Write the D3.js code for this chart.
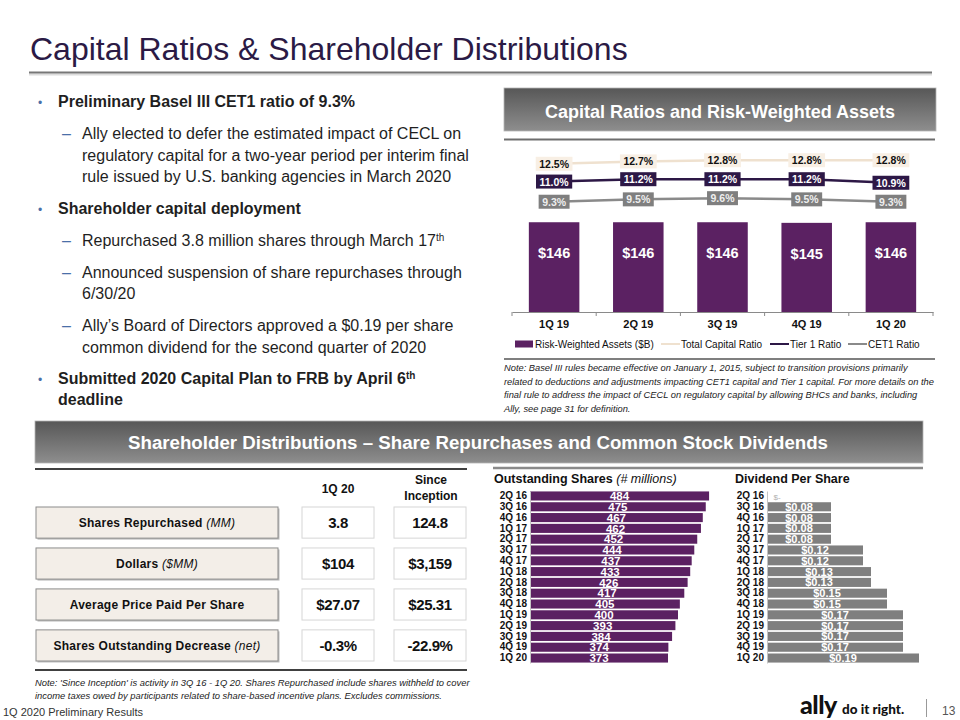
<!DOCTYPE html>
<html>
<head>
<meta charset="utf-8">
<script src="https://cdn.jsdelivr.net/npm/d3@7"></script>
<style>
  body { margin: 0; background: #ffffff; }
  svg { display: block; }
</style>
</head>
<body>
<script>
// ---------------- DATA ----------------
const quarters = ["1Q 19", "2Q 19", "3Q 19", "4Q 19", "1Q 20"];
const rwa = [146, 146, 146, 145, 146];
const totalCapitalRatio = [12.5, 12.7, 12.8, 12.8, 12.8];
const tier1Ratio = [11.0, 11.2, 11.2, 11.2, 10.9];
const cet1Ratio = [9.3, 9.5, 9.6, 9.5, 9.3];
const legendLabels = ["Risk-Weighted Assets ($B)", "Total Capital Ratio", "Tier 1 Ratio", "CET1 Ratio"];

const shareQuarters = ["2Q 16", "3Q 16", "4Q 16", "1Q 17", "2Q 17", "3Q 17", "4Q 17", "1Q 18",
                       "2Q 18", "3Q 18", "4Q 18", "1Q 19", "2Q 19", "3Q 19", "4Q 19", "1Q 20"];
const outstandingShares = [484, 475, 467, 462, 452, 444, 437, 433, 426, 417, 405, 400, 393, 384, 374, 373];
const dividendPerShare = [0, 0.08, 0.08, 0.08, 0.08, 0.12, 0.12, 0.13, 0.13, 0.15, 0.15, 0.17, 0.17, 0.17, 0.17, 0.19];

const tableLabels = ["Shares Repurchased", "Dollars", "Average Price Paid Per Share", "Shares Outstanding Decrease"];
const tableUnits = ["(MM)", "($MM)", "", "(net)"];
const tableColumns = ["1Q 20", "Since Inception"];
const q1Values = ["3.8", "$104", "$27.07", "-0.3%"];
const sinceValues = ["124.8", "$3,159", "$25.31", "-22.9%"];

// ---------------- SETUP ----------------
const FONT = "'Liberation Sans', Arial, Helvetica, sans-serif";
const PURPLE = "#5b2162";
const DARKPURPLE = "#2d1846";
const svg = d3.select("body").append("svg")
  .attr("width", 960).attr("height", 720)
  .style("font-family", FONT);

const defs = svg.append("defs");
const grad = defs.append("linearGradient").attr("id", "hdr").attr("x1", 0).attr("y1", 0).attr("x2", 0).attr("y2", 1);
grad.append("stop").attr("offset", "0%").attr("stop-color", "#575757");
grad.append("stop").attr("offset", "100%").attr("stop-color", "#8e8e8e");

// ---------------- TITLE ----------------
svg.append("text").attr("x", 30).attr("y", 60)
  .attr("font-size", 32).attr("fill", "#2b1a45")
  .text("Capital Ratios & Shareholder Distributions");
svg.append("line").attr("x1", 29).attr("x2", 932).attr("y1", 74.5).attr("y2", 74.5)
  .attr("stroke", "#dcdcdc").attr("stroke-width", 2);
svg.append("line").attr("x1", 29).attr("x2", 932).attr("y1", 72.5).attr("y2", 72.5)
  .attr("stroke", "#777777").attr("stroke-width", 2);

// ---------------- LEFT TEXT ----------------
const BLUE = "#4a6fa8";
const TXT = "#1f1f1f";
const textG = svg.append("g").attr("font-size", 16).attr("fill", TXT);
function bullet(y, str, sup) {
  textG.append("text").attr("x", 38).attr("y", y).attr("fill", BLUE).attr("font-size", 12).text("•");
  const t = textG.append("text").attr("x", 58).attr("y", y).attr("font-weight", "bold");
  t.append("tspan").text(str);
  if (sup) t.append("tspan").attr("baseline-shift", "super").attr("font-size", 10).text(sup);
  return t;
}
function sub(y, str, sup, dash) {
  if (dash !== false) textG.append("text").attr("x", 62).attr("y", y).attr("fill", BLUE).text("–");
  const t = textG.append("text").attr("x", 82).attr("y", y);
  t.append("tspan").text(str);
  if (sup) t.append("tspan").attr("baseline-shift", "super").attr("font-size", 10).text(sup);
}
bullet(107, "Preliminary Basel III CET1 ratio of 9.3%");
sub(139, "Ally elected to defer the estimated impact of CECL on");
sub(161, "regulatory capital for a two-year period per interim final", null, false);
sub(182, "rule issued by U.S. banking agencies in March 2020", null, false);
bullet(214, "Shareholder capital deployment");
sub(246, "Repurchased 3.8 million shares through March 17", "th");
sub(278, "Announced suspension of share repurchases through");
sub(299, "6/30/20", null, false);
sub(331, "Ally’s Board of Directors approved a $0.19 per share");
sub(353, "common dividend for the second quarter of 2020", null, false);
bullet(384, "Submitted 2020 Capital Plan to FRB by April 6", "th");
textG.append("text").attr("x", 58).attr("y", 405).attr("font-weight", "bold").text("deadline");

// ---------------- TOP-RIGHT CHART ----------------
svg.append("rect").attr("x", 504).attr("y", 88).attr("width", 432).attr("height", 43)
  .attr("fill", "url(#hdr)").attr("stroke", "#b5b5b5").attr("stroke-width", 0.8);
svg.append("text").attr("x", 720).attr("y", 118).attr("text-anchor", "middle")
  .attr("font-size", 18).attr("font-weight", "bold").attr("fill", "#ffffff")
  .text("Capital Ratios and Risk-Weighted Assets");
svg.append("line").attr("x1", 504).attr("x2", 935).attr("y1", 139.5).attr("y2", 139.5)
  .attr("stroke", "#6e6e6e").attr("stroke-width", 2);

const x = d3.scaleBand().domain(quarters).range([512, 933]).paddingInner(0.4).paddingOuter(0.2);
const y1 = d3.scaleLinear().domain([0, 270]).range([312, 146]);
const y2 = d3.scaleLinear().domain([0, 14]).range([312, 146]);
const cx = q => x(q) + x.bandwidth() / 2;

const chart = svg.append("g");
chart.selectAll("rect.rwa").data(quarters).join("rect").attr("class", "rwa")
  .attr("x", q => x(q)).attr("width", x.bandwidth())
  .attr("y", (q, i) => y1(rwa[i])).attr("height", (q, i) => y1(0) - y1(rwa[i]))
  .attr("fill", PURPLE);
chart.selectAll("text.rwal").data(quarters).join("text").attr("class", "rwal")
  .attr("x", cx).attr("y", (q, i) => y1(rwa[i]) + 36)
  .attr("text-anchor", "middle").attr("font-size", 14.5).attr("font-weight", "bold").attr("fill", "#ffffff")
  .text((q, i) => "$" + rwa[i]);

// x axis
const xAxis = d3.axisBottom(x).tickSize(0).tickPadding(8);
const gx = chart.append("g").attr("transform", "translate(0,312)").call(xAxis);
gx.select(".domain").attr("stroke", "#8a8a8a").attr("stroke-width", 1.2);
gx.selectAll("text").attr("font-size", 11).attr("font-weight", "bold").attr("fill", "#111").attr("font-family", FONT);
const step = x.step();
const bounds = [x.range()[0]].concat(quarters.map(q => x(q) + x.bandwidth() + x.paddingInner() * step / 2));
bounds[bounds.length - 1] = x.range()[1];
chart.selectAll("line.btick").data(bounds).join("line").attr("class", "btick")
  .attr("x1", d => d).attr("x2", d => d).attr("y1", 312).attr("y2", 316)
  .attr("stroke", "#8a8a8a").attr("stroke-width", 1);

// ratio lines
const ratioSeries = [
  { vals: totalCapitalRatio, line: "#efe1cf", box: "#f8efe4", txt: "#111111" },
  { vals: tier1Ratio, line: DARKPURPLE, box: DARKPURPLE, txt: "#ffffff" },
  { vals: cet1Ratio, line: "#8a8a8a", box: "#7f7f7f", txt: "#eeeeee" }
];
const lineGen = d3.line().x(d => cx(d.q)).y(d => y2(d.v));
ratioSeries.forEach(s => {
  const pts = quarters.map((q, i) => ({ q, v: s.vals[i] }));
  chart.append("path").datum(pts).attr("d", lineGen)
    .attr("fill", "none").attr("stroke", s.line).attr("stroke-width", 2.5);
  const lg = chart.append("g");
  pts.forEach(p => {
    const g = lg.append("g");
    const t = g.append("text").attr("x", cx(p.q)).attr("y", y2(p.v) + 4)
      .attr("text-anchor", "middle").attr("font-size", 10.5).attr("font-weight", "bold")
      .attr("fill", s.txt).text(p.v.toFixed(1) + "%");
    const w = t.node().getComputedTextLength() + 7;
    g.insert("rect", "text").attr("x", cx(p.q) - w / 2).attr("y", y2(p.v) - 7)
      .attr("width", w).attr("height", 14).attr("fill", s.box);
  });
});

// legend
const leg = svg.append("g").attr("font-size", 10).attr("fill", "#111");
const legX = [515, 661, 770, 848];
leg.append("rect").attr("x", legX[0]).attr("y", 340.5).attr("width", 18).attr("height", 7).attr("fill", PURPLE);
[ "#efe1cf", DARKPURPLE, "#8a8a8a" ].forEach((c, i) => {
  leg.append("line").attr("x1", legX[i + 1]).attr("x2", legX[i + 1] + 19).attr("y1", 344).attr("y2", 344)
    .attr("stroke", c).attr("stroke-width", 2);
});
legendLabels.forEach((l, i) => {
  leg.append("text").attr("x", legX[i] + 20).attr("y", 347.5).text(l);
});
svg.append("line").attr("x1", 504).attr("x2", 935).attr("y1", 359).attr("y2", 359)
  .attr("stroke", "#555").attr("stroke-width", 1.5);

const noteTop = [
  "Note: Basel III rules became effective on January 1, 2015, subject to transition provisions primarily",
  "related to deductions and adjustments impacting CET1 capital and Tier 1 capital. For more details on the",
  "final rule to address the impact of CECL on regulatory capital by allowing BHCs and banks, including",
  "Ally, see page 31 for definition."
];
svg.append("g").attr("font-size", 9.3).attr("font-style", "italic").attr("fill", "#222")
  .selectAll("text").data(noteTop).join("text")
  .attr("x", 504).attr("y", (d, i) => 371 + i * 13.7).text(d => d);

// ---------------- BOTTOM HEADER ----------------
svg.append("rect").attr("x", 35).attr("y", 421).attr("width", 888).attr("height", 42)
  .attr("fill", "url(#hdr)").attr("stroke", "#b5b5b5").attr("stroke-width", 0.8);
svg.append("text").attr("x", 128).attr("y", 448.5)
  .attr("font-size", 18).attr("font-weight", "bold").attr("fill", "#ffffff")
  .attr("textLength", 700).attr("lengthAdjust", "spacingAndGlyphs")
  .text("Shareholder Distributions – Share Repurchases and Common Stock Dividends");

// ---------------- TABLE ----------------
svg.append("line").attr("x1", 35).attr("x2", 467).attr("y1", 469).attr("y2", 469).attr("stroke", "#404040").attr("stroke-width", 2);
svg.append("line").attr("x1", 35).attr("x2", 467).attr("y1", 670).attr("y2", 670).attr("stroke", "#404040").attr("stroke-width", 2);
const colX = [302, 394], colW = 72;
const th = svg.append("g").attr("font-size", 12).attr("font-weight", "bold").attr("fill", "#111").attr("text-anchor", "middle");
th.append("text").attr("x", colX[0] + colW / 2).attr("y", 493).text(tableColumns[0]);
tableColumns[1].split(" ").forEach((w, i) => {
  th.append("text").attr("x", colX[1] + colW / 2 + 1).attr("y", 484 + i * 16).text(w);
});
const rowY = d3.scaleBand().domain(tableLabels).range([507, 661]).paddingInner(0.24).paddingOuter(0);
tableLabels.forEach((lab, i) => {
  const yy = rowY(lab), h = rowY.bandwidth();
  svg.append("rect").attr("x", 37.5).attr("y", yy + 1.5).attr("width", 242).attr("height", h).attr("fill", "#bdbdbd");
  svg.append("rect").attr("x", 36).attr("y", yy).attr("width", 242).attr("height", h)
    .attr("fill", "#f3eee8").attr("stroke", "#8c8c8c").attr("stroke-width", 1);
  const t = svg.append("text").attr("x", 157).attr("y", yy + h / 2 + 4.5).attr("text-anchor", "middle")
    .attr("font-size", 12).attr("fill", "#111").attr("letter-spacing", 0.25);
  t.append("tspan").attr("font-weight", "bold").text(lab);
  if (tableUnits[i]) t.append("tspan").attr("font-style", "italic").text(" " + tableUnits[i]);
  [q1Values[i], sinceValues[i]].forEach((v, j) => {
    svg.append("rect").attr("x", colX[j]).attr("y", yy).attr("width", colW).attr("height", h)
      .attr("fill", "#ffffff").attr("stroke", "#d6d6d6").attr("stroke-width", 1);
    svg.append("text").attr("x", colX[j] + colW / 2).attr("y", yy + h / 2 + 5.5).attr("text-anchor", "middle")
      .attr("font-size", 15).attr("font-weight", "bold").attr("fill", "#111").attr("letter-spacing", -0.4).text(v);
  });
});
const noteBottom = [
  "Note: 'Since Inception' is activity in 3Q 16 - 1Q 20. Shares Repurchased include shares withheld to cover",
  "income taxes owed by participants related to share-based incentive plans. Excludes commissions."
];
svg.append("g").attr("font-size", 9.4).attr("font-style", "italic").attr("fill", "#222")
  .selectAll("text").data(noteBottom).join("text")
  .attr("x", 35).attr("y", (d, i) => 686 + i * 13).text(d => d);

// ---------------- HORIZONTAL BAR CHARTS ----------------
svg.append("line").attr("x1", 493).attr("x2", 923).attr("y1", 468).attr("y2", 468).attr("stroke", "#8a8a8a").attr("stroke-width", 2.5);
const ys = d3.scaleBand().domain(shareQuarters).range([491, 663]).paddingInner(0.16).paddingOuter(0.04);

// Outstanding shares
const t1 = svg.append("text").attr("x", 494).attr("y", 483).attr("font-size", 12.5).attr("fill", "#111");
t1.append("tspan").attr("font-weight", "bold").text("Outstanding Shares ");
t1.append("tspan").attr("font-style", "italic").text("(# millions)");
const xO = d3.scaleLinear().domain([0, 500]).range([530, 715]);
svg.selectAll("rect.os").data(shareQuarters).join("rect").attr("class", "os")
  .attr("x", xO(0)).attr("y", q => ys(q)).attr("height", ys.bandwidth())
  .attr("width", (q, i) => xO(outstandingShares[i]) - xO(0)).attr("fill", PURPLE);
svg.selectAll("text.osl").data(shareQuarters).join("text").attr("class", "osl")
  .attr("x", (q, i) => (xO(0) + xO(outstandingShares[i])) / 2).attr("y", q => ys(q) + ys.bandwidth() / 2 + 4.2)
  .attr("text-anchor", "middle").attr("font-size", 11.5).attr("font-weight", "bold").attr("fill", "#ffffff")
  .text((q, i) => outstandingShares[i]);
const ayO = svg.append("g").attr("transform", `translate(${xO(0)},0)`).call(d3.axisLeft(ys).tickSize(0).tickPadding(3));
ayO.select(".domain").attr("stroke", "#c4c4c4");
ayO.selectAll("text").attr("font-size", 10).attr("font-weight", "bold").attr("fill", "#111").attr("font-family", FONT);

// Dividend per share
svg.append("text").attr("x", 735).attr("y", 483).attr("font-size", 12.5).attr("font-weight", "bold").attr("fill", "#111")
  .text("Dividend Per Share");
const xD = d3.scaleLinear().domain([0, 0.2]).range([767, 927]);
svg.selectAll("rect.dv").data(shareQuarters).join("rect").attr("class", "dv")
  .attr("x", xD(0)).attr("y", q => ys(q)).attr("height", ys.bandwidth())
  .attr("width", (q, i) => xD(dividendPerShare[i]) - xD(0)).attr("fill", "#7f7f7f");
svg.selectAll("text.dvl").data(shareQuarters).join("text").attr("class", "dvl")
  .attr("x", (q, i) => dividendPerShare[i] > 0 ? (xD(0) + xD(dividendPerShare[i])) / 2 : xD(0) + 10)
  .attr("y", q => ys(q) + ys.bandwidth() / 2 + 4)
  .attr("text-anchor", "middle")
  .attr("font-size", (q, i) => dividendPerShare[i] > 0 ? 11 : 8)
  .attr("font-weight", (q, i) => dividendPerShare[i] > 0 ? "bold" : "normal")
  .attr("fill", (q, i) => dividendPerShare[i] > 0 ? "#ffffff" : "#b0b0b0")
  .text((q, i) => dividendPerShare[i] > 0 ? "$" + dividendPerShare[i].toFixed(2) : "$-");
const ayD = svg.append("g").attr("transform", `translate(${xD(0)},0)`).call(d3.axisLeft(ys).tickSize(0).tickPadding(3));
ayD.select(".domain").attr("stroke", "#c4c4c4");
ayD.selectAll("text").attr("font-size", 10).attr("font-weight", "bold").attr("fill", "#111").attr("font-family", FONT);

// ---------------- FOOTER ----------------
svg.append("text").attr("x", 3).attr("y", 716).attr("font-size", 11).attr("fill", "#333").text("1Q 2020 Preliminary Results");
svg.append("text").attr("x", 800).attr("y", 714).attr("font-family", "Lato, 'Open Sans', sans-serif")
  .attr("font-size", 25).attr("font-weight", 900).attr("letter-spacing", -0.5).attr("fill", "#111").text("ally");
svg.append("text").attr("x", 842).attr("y", 714).attr("font-family", "Lato, 'Open Sans', sans-serif")
  .attr("font-size", 13.5).attr("font-weight", 900).attr("fill", "#111").text("do it right.");
svg.append("line").attr("x1", 926.5).attr("x2", 926.5).attr("y1", 699).attr("y2", 717).attr("stroke", "#999").attr("stroke-width", 1);
svg.append("text").attr("x", 942).attr("y", 715).attr("font-size", 12).attr("fill", "#555").text("13");
</script>
</body>
</html>
